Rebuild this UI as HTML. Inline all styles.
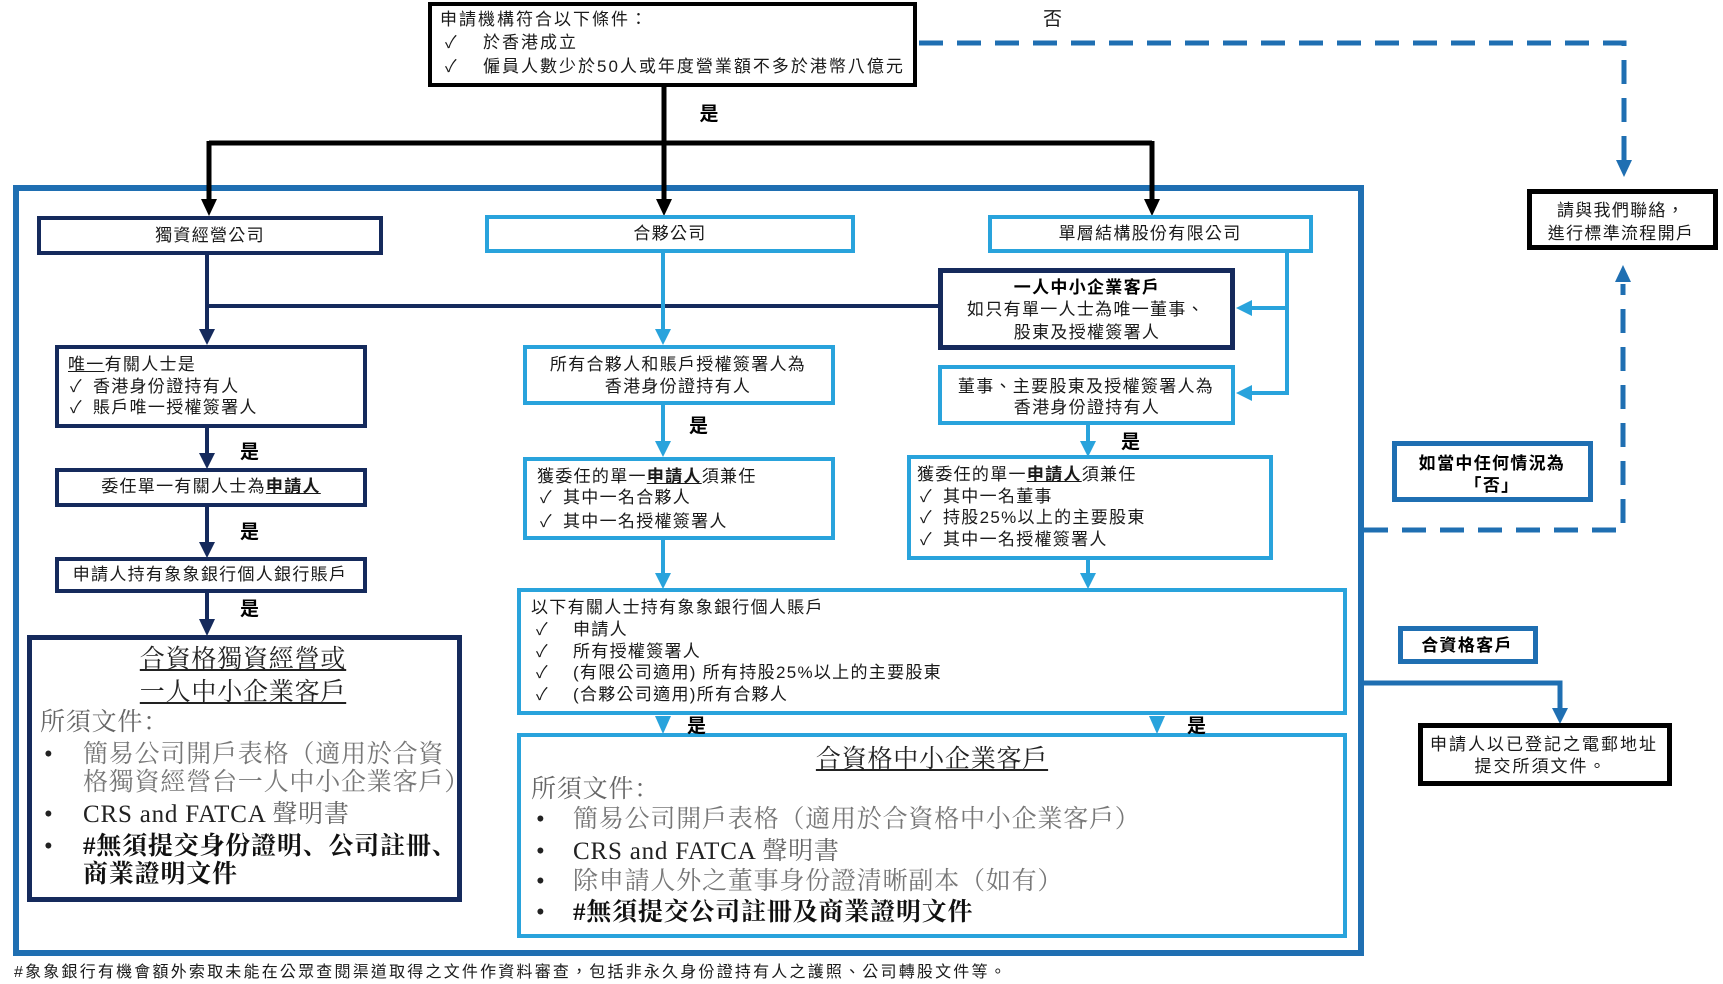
<!DOCTYPE html>
<html><head><meta charset="utf-8">
<style>
html,body{margin:0;padding:0;background:#fff;}
body{width:1723px;height:983px;position:relative;overflow:hidden;}
svg{position:absolute;left:0;top:0;}
.t{position:absolute;white-space:nowrap;font-family:"Liberation Sans","Noto Sans CJK TC",sans-serif;font-size:17px;line-height:22px;letter-spacing:1.3px;color:#1a1a1a;}
.c{width:400px;text-align:center;}
.y{font-weight:bold;font-size:19px;color:#000;letter-spacing:0;}
.b{font-weight:bold;color:#000;}
.s{position:absolute;white-space:nowrap;font-family:"Liberation Serif","Noto Serif CJK SC",serif;font-size:25px;line-height:30px;letter-spacing:0.8px;color:#777;}
.s.k{color:#222;}
.s.g{color:#666;}
.s.bd{font-weight:bold;color:#111;}
</style></head>
<body>
<svg width="1723" height="983" viewBox="0 0 1723 983">
  <!-- outer blue frame -->
  <rect x="16" y="188" width="1345" height="765" fill="none" stroke="#1f6fb2" stroke-width="6"/>

  <!-- top black connectors -->
  <path d="M664 87 V202 M209 143 H1152 M209 141 V202 M1152 141 V202" stroke="#000" stroke-width="5" fill="none"/>
  <polygon points="201,199 217,199 209,216" fill="#000"/>
  <polygon points="656,199 672,199 664,216" fill="#000"/>
  <polygon points="1144,199 1160,199 1152,216" fill="#000"/>

  <!-- top box -->
  <rect x="430" y="4" width="485" height="81" fill="#fff" stroke="#000" stroke-width="4"/>

  <!-- dashed "no" paths -->
  <path d="M919 43 H1624 V162" stroke="#1f6fb2" stroke-width="5" fill="none" stroke-dasharray="24 14"/>
  <polygon points="1616,160 1632,160 1624,177" fill="#1f6fb2"/>
  <path d="M1364 530 H1623 V284" stroke="#1f6fb2" stroke-width="5" fill="none" stroke-dasharray="24 14"/>
  <polygon points="1615,282 1631,282 1623,265" fill="#1f6fb2"/>

  <!-- LEFT column (navy) -->
  <g stroke="#152a5c" fill="none">
    <rect x="39" y="218" width="342" height="35" stroke-width="4"/>
    <path d="M207 255 V330 M207 306 H940" stroke-width="4"/>
    <rect x="57" y="347" width="308" height="79" stroke-width="4"/>
    <path d="M207 428 V455" stroke-width="4"/>
    <rect x="57" y="470" width="308" height="35" stroke-width="4"/>
    <path d="M207 507 V544" stroke-width="4"/>
    <rect x="57" y="559" width="308" height="32" stroke-width="4"/>
    <path d="M207 593 V620" stroke-width="4"/>
    <rect x="29.5" y="637.5" width="430" height="262" stroke-width="5"/>
    <rect x="940.5" y="270.5" width="292" height="77" stroke-width="5" fill="#fff"/>
  </g>
  <g fill="#152a5c">
    <polygon points="199,329 215,329 207,345"/>
    <polygon points="199,453 215,453 207,469"/>
    <polygon points="199,542 215,542 207,558"/>
    <polygon points="199,619 215,619 207,636"/>
  </g>

  <!-- MIDDLE / RIGHT (cyan) -->
  <g stroke="#29a3dc" fill="none" stroke-width="4">
    <rect x="487" y="217" width="366" height="34"/>
    <path d="M663 253 V330"/>
    <rect x="525" y="347" width="308" height="56"/>
    <path d="M663 405 V442"/>
    <rect x="525" y="459" width="308" height="79"/>
    <path d="M663 540 V574"/>
    <rect x="990" y="217" width="321" height="34"/>
    <path d="M1287 253 V395 M1289 308 H1250 M1289 393 H1250"/>
    <rect x="940" y="367" width="293" height="56"/>
    <path d="M1088 425 V442"/>
    <rect x="909" y="457" width="362" height="101"/>
    <path d="M1088 560 V574"/>
    <rect x="519" y="590" width="826" height="123"/>
    <rect x="519" y="735" width="826" height="201"/>
  </g>
  <g fill="#29a3dc">
    <polygon points="655,329 671,329 663,345"/>
    <polygon points="655,441 671,441 663,457"/>
    <polygon points="655,573 671,573 663,589"/>
    <polygon points="1252,300 1252,316 1236,308"/>
    <polygon points="1252,385 1252,401 1236,393"/>
    <polygon points="1080,441 1096,441 1088,457"/>
    <polygon points="1080,573 1096,573 1088,589"/>
    <polygon points="655,716 671,716 663,734"/>
    <polygon points="1149,716 1165,716 1157,734"/>
  </g>

  <!-- right side -->
  <path d="M1361 683 H1560 V710" stroke="#1f6fb2" stroke-width="5" fill="none"/>
  <polygon points="1552,708 1568,708 1560,724" fill="#1f6fb2"/>
  <rect x="1400.5" y="628.5" width="135" height="33" fill="#fff" stroke="#1f6fb2" stroke-width="5"/>
  <rect x="1420.5" y="725.5" width="249" height="58" fill="#fff" stroke="#000" stroke-width="5"/>
  <rect x="1394.5" y="443.5" width="196" height="56" fill="#fff" stroke="#1f6fb2" stroke-width="5"/>
  <rect x="1529.5" y="191.5" width="186" height="56" fill="#fff" stroke="#000" stroke-width="5"/>
</svg>

<!-- top box text -->
<div class="t" style="left:440px;top:9px;letter-spacing:2px;">申請機構符合以下條件：</div>
<div class="t" style="left:445px;top:32px;">✓</div>
<div class="t" style="left:483px;top:32px;letter-spacing:2px;">於香港成立</div>
<div class="t" style="left:445px;top:56px;">✓</div>
<div class="t" style="left:483px;top:56px;letter-spacing:2px;">僱員人數少於50人或年度營業額不多於港幣八億元</div>
<div class="t" style="left:1043px;top:9px;font-size:19px;">否</div>
<div class="t c y" style="left:509px;top:104px;">是</div>

<!-- left column text -->
<div class="t c" style="left:10px;top:225px;">獨資經營公司</div>
<div class="t" style="left:68px;top:354px;"><u>唯一</u>有關人士是</div>
<div class="t" style="left:70px;top:376px;">✓</div>
<div class="t" style="left:93px;top:376px;">香港身份證持有人</div>
<div class="t" style="left:70px;top:397px;">✓</div>
<div class="t" style="left:93px;top:397px;">賬戶唯一授權簽署人</div>
<div class="t y" style="left:240px;top:442px;">是</div>
<div class="t c" style="left:11px;top:476px;">委任單一有關人士為<b><u>申請人</u></b></div>
<div class="t y" style="left:240px;top:522px;">是</div>
<div class="t c" style="left:10px;top:564px;">申請人持有象象銀行個人銀行賬戶</div>
<div class="t y" style="left:240px;top:599px;">是</div>

<div class="s k" style="left:43px;top:645px;width:400px;text-align:center;"><u>合資格獨資經營或</u></div>
<div class="s k" style="left:43px;top:678px;width:400px;text-align:center;"><u>一人中小企業客戶</u></div>
<div class="s g" style="left:40px;top:708px;">所須文件：</div>
<div class="s k" style="left:44px;top:740px;">•</div>
<div class="s" style="left:83px;top:740px;">簡易公司開戶表格（適用於合資</div>
<div class="s" style="left:83px;top:768px;">格獨資經營台一人中小企業客戶）</div>
<div class="s k" style="left:44px;top:800px;">•</div>
<div class="s k" style="left:83px;top:800px;">CRS and FATCA <span style="color:#666">聲明書</span></div>
<div class="s k" style="left:44px;top:832px;">•</div>
<div class="s bd" style="left:83px;top:832px;">#無須提交身份證明、公司註冊、</div>
<div class="s bd" style="left:83px;top:860px;">商業證明文件</div>

<!-- middle column text -->
<div class="t c" style="left:470px;top:223px;">合夥公司</div>
<div class="t c" style="left:478px;top:354px;">所有合夥人和賬戶授權簽署人為</div>
<div class="t c" style="left:478px;top:376px;">香港身份證持有人</div>
<div class="t y" style="left:689px;top:416px;">是</div>
<div class="t" style="left:537px;top:466px;">獲委任的單一<b><u>申請人</u></b>須兼任</div>
<div class="t" style="left:540px;top:487px;">✓</div>
<div class="t" style="left:563px;top:487px;">其中一名合夥人</div>
<div class="t" style="left:540px;top:511px;">✓</div>
<div class="t" style="left:563px;top:511px;">其中一名授權簽署人</div>

<!-- right column text -->
<div class="t c" style="left:950px;top:223px;">單層結構股份有限公司</div>
<div class="t c b" style="left:887px;top:277px;">一人中小企業客戶</div>
<div class="t c" style="left:886px;top:299px;">如只有單一人士為唯一董事、</div>
<div class="t c" style="left:887px;top:322px;">股東及授權簽署人</div>
<div class="t c" style="left:886px;top:376px;">董事、主要股東及授權簽署人為</div>
<div class="t c" style="left:887px;top:397px;">香港身份證持有人</div>
<div class="t y" style="left:1121px;top:432px;">是</div>
<div class="t" style="left:917px;top:464px;">獲委任的單一<b><u>申請人</u></b>須兼任</div>
<div class="t" style="left:920px;top:486px;">✓</div>
<div class="t" style="left:943px;top:486px;">其中一名董事</div>
<div class="t" style="left:920px;top:507px;">✓</div>
<div class="t" style="left:943px;top:507px;">持股25%以上的主要股東</div>
<div class="t" style="left:920px;top:529px;">✓</div>
<div class="t" style="left:943px;top:529px;">其中一名授權簽署人</div>

<!-- shared box text -->
<div class="t" style="left:531px;top:597px;">以下有關人士持有象象銀行個人賬戶</div>
<div class="t" style="left:536px;top:619px;">✓</div>
<div class="t" style="left:573px;top:619px;">申請人</div>
<div class="t" style="left:536px;top:641px;">✓</div>
<div class="t" style="left:573px;top:641px;">所有授權簽署人</div>
<div class="t" style="left:536px;top:662px;">✓</div>
<div class="t" style="left:573px;top:662px;">(有限公司適用) 所有持股25%以上的主要股東</div>
<div class="t" style="left:536px;top:684px;">✓</div>
<div class="t" style="left:573px;top:684px;">(合夥公司適用)所有合夥人</div>
<div class="t y" style="left:687px;top:716px;">是</div>
<div class="t y" style="left:1187px;top:716px;">是</div>

<div class="s k" style="left:732px;top:745px;width:400px;text-align:center;"><u>合資格中小企業客戶</u></div>
<div class="s g" style="left:531px;top:775px;">所須文件：</div>
<div class="s k" style="left:536px;top:805px;">•</div>
<div class="s" style="left:573px;top:805px;">簡易公司開戶表格（適用於合資格中小企業客戶）</div>
<div class="s k" style="left:536px;top:837px;">•</div>
<div class="s k" style="left:573px;top:837px;">CRS and FATCA <span style="color:#666">聲明書</span></div>
<div class="s k" style="left:536px;top:867px;">•</div>
<div class="s" style="left:573px;top:867px;">除申請人外之董事身份證清晰副本（如有）</div>
<div class="s k" style="left:536px;top:898px;">•</div>
<div class="s bd" style="left:573px;top:898px;">#無須提交公司註冊及商業證明文件</div>

<!-- right side text -->
<div class="t c b" style="left:1292px;top:453px;">如當中任何情況為</div>
<div class="t c b" style="left:1292px;top:475px;">「否」</div>
<div class="t c" style="left:1421px;top:200px;">請與我們聯絡，</div>
<div class="t c" style="left:1421px;top:223px;">進行標準流程開戶</div>
<div class="t c b" style="left:1267px;top:635px;">合資格客戶</div>
<div class="t c" style="left:1344px;top:734px;letter-spacing:2px;">申請人以已登記之電郵地址</div>
<div class="t c" style="left:1341px;top:756px;letter-spacing:2px;">提交所須文件。</div>

<!-- footnote -->
<div class="t" style="left:14px;top:962px;font-size:16px;letter-spacing:2.2px;">#象象銀行有機會額外索取未能在公眾查閱渠道取得之文件作資料審查，包括非永久身份證持有人之護照、公司轉股文件等。</div>
</body></html>
